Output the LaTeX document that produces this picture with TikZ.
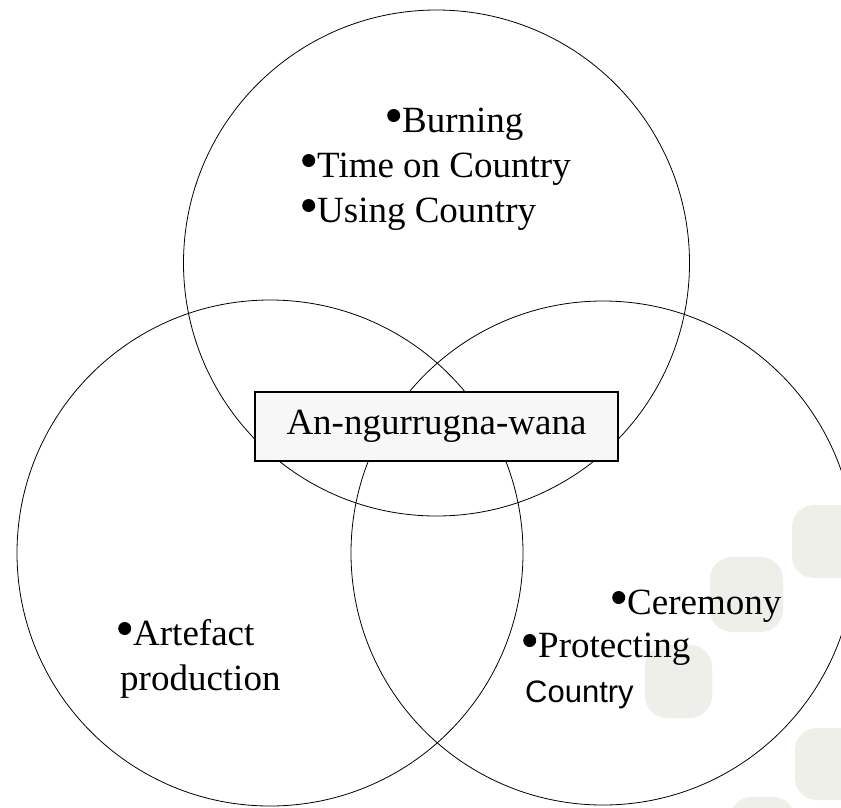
\documentclass[tikz,border=0pt]{standalone}
\usepackage{fontspec}
\setmainfont{Liberation Serif}
\newfontfamily\arialfont{Liberation Sans}
\newcommand\bulmark{\raisebox{10pt}{\tikz\fill[black] (0,0) circle[radius=6.5pt];}\hspace{2pt}}
\begin{document}
\begin{tikzpicture}[x=1pt,y=-1pt,
  ring/.style={draw=black,line width=0.8pt},
  blob/.style={fill=blobgrey,rounded corners=22pt},
  itemtext/.style={anchor=base west,inner sep=0pt,font=\fontsize{37}{44}\selectfont},
  centerbox/.style={draw=black,line width=1.2pt,fill=boxgrey,minimum width=363pt,minimum height=69pt,inner sep=0pt,font=\fontsize{37}{44}\selectfont}]
\definecolor{blobgrey}{RGB}{239,239,234}
\definecolor{boxgrey}{RGB}{247,247,247}
\useasboundingbox (0,0) rectangle (841,807);
\clip (0,0) rectangle (841,807);
\fill[white] (0,0) rectangle (841,807);
% background blobs
\fill[blob] (792,505) rectangle (870,578);
\fill[blob] (710,557) rectangle (783,632);
\fill[blob] (645,645) rectangle (712,718);
\fill[blob] (795,728) rectangle (870,800);
\fill[blob] (730,797) rectangle (795,860);
% circles
\draw[ring] (436.5,263) circle[radius=253];
\draw[ring] (270,553) circle[radius=253];
\draw[ring] (603,553) circle[radius=252];
% centre box
\node[centerbox] (core) at (436.5,426.5) {An-ngurrugna-wana};
% items
\node[itemtext] (burn) at (387,132) {\bulmark Burning};
\node[itemtext] (time) at (302,177) {\bulmark Time on Country};
\node[itemtext] (using) at (302,222) {\bulmark Using Country};
\node[itemtext] (art) at (118,645) {\bulmark Artefact};
\node[itemtext] (prod) at (120,690) {production};
\node[itemtext] (cer) at (612,614) {\bulmark Ceremony};
\node[itemtext] (prot) at (523,657) {\bulmark Protecting};
\node[itemtext,font=\arialfont\fontsize{31}{36}\selectfont] (ctry) at (525,702) {Country};
\end{tikzpicture}
\end{document}
